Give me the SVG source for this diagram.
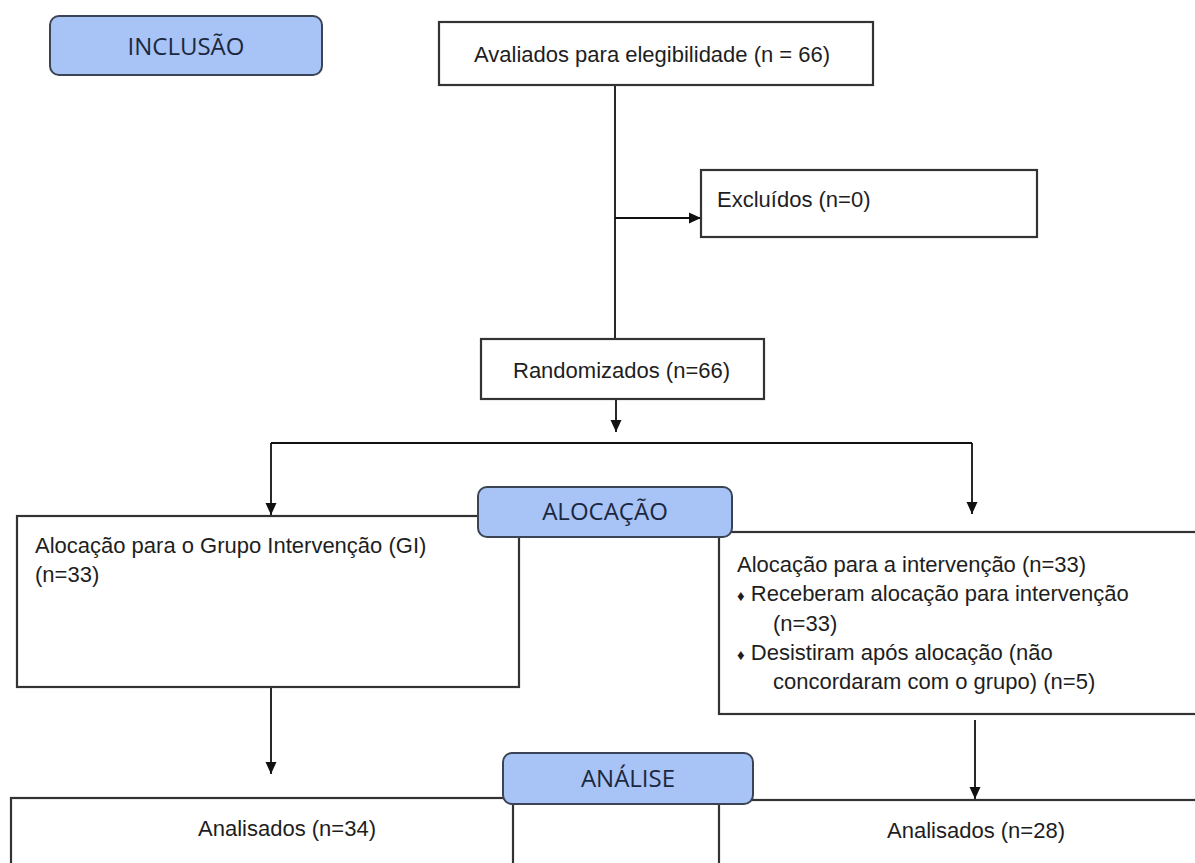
<svg xmlns="http://www.w3.org/2000/svg" width="1195" height="863" viewBox="0 0 1195 863">
<defs>
<marker id="ah" markerUnits="userSpaceOnUse" markerWidth="12" markerHeight="12" viewBox="0 0 12 12" refX="12" refY="6" orient="auto">
<path d="M0,0.5 L12,6 L0,11.5 Z" fill="#111"/>
</marker>
<style>
.box{fill:#fff;stroke:#333;stroke-width:2.2}
.tag{fill:#a8c3f6;stroke:#3a4455;stroke-width:2}
.t{font-family:"Liberation Sans",Arial,sans-serif;font-size:22px;fill:#1e1e1e}
.tt{font-family:"Open Sans","Noto Sans",sans-serif;font-size:24px;fill:#1b2840;text-anchor:middle}
.c{fill:none;stroke:#111;stroke-width:1.8}
.b{font-size:15px}
</style>
</defs>
<rect width="1195" height="863" fill="#fff"/>
<g id="connectors">
<path class="c" d="M615,85 V339"/>
<path class="c" d="M615,218 H701" marker-end="url(#ah)"/>
<path class="c" d="M616,399 V432" marker-end="url(#ah)"/>
<path class="c" d="M271,443 H972"/>
<path class="c" d="M271,443 V515" marker-end="url(#ah)"/>
<path class="c" d="M972,443 V514" marker-end="url(#ah)"/>
<path class="c" d="M271,687 V774" marker-end="url(#ah)"/>
<path class="c" d="M975,720 V799" marker-end="url(#ah)"/>
</g>
<g id="inclusao">
<rect class="tag" x="50" y="16" width="272" height="59" rx="9"/>
<text class="tt" x="186" y="55">INCLUSÃO</text>
</g>
<g id="avaliados">
<rect class="box" x="439" y="22" width="434" height="63"/>
<text class="t" x="474" y="62">Avaliados para elegibilidade (n = 66)</text>
</g>
<g id="excluidos">
<rect class="box" x="701" y="170" width="336" height="67"/>
<text class="t" x="717" y="207">Excluídos (n=0)</text>
</g>
<g id="randomizados">
<rect class="box" x="481" y="339" width="283" height="60"/>
<text class="t" x="513" y="378">Randomizados (n=66)</text>
</g>
<g id="grupo-gi">
<rect class="box" x="17" y="516" width="502" height="171"/>
<text class="t" x="35" y="553">Alocação para o Grupo Intervenção (GI)</text>
<text class="t" x="35" y="582">(n=33)</text>
</g>
<g id="grupo-intervencao">
<rect class="box" x="719" y="532" width="490" height="182"/>
<text class="t" x="737" y="572">Alocação para a intervenção (n=33)</text>
<text class="t" x="737" y="601"><tspan class="b">♦</tspan> Receberam alocação para intervenção</text>
<text class="t" x="773" y="631">(n=33)</text>
<text class="t" x="737" y="660"><tspan class="b">♦</tspan> Desistiram após alocação (não</text>
<text class="t" x="773" y="689">concordaram com o grupo) (n=5)</text>
</g>
<g id="alocacao">
<rect class="tag" x="478" y="487" width="254" height="50" rx="9"/>
<text class="tt" x="605" y="520">ALOCAÇÃO</text>
</g>
<g id="analisados-34">
<rect class="box" x="11" y="798" width="502" height="100"/>
<text class="t" x="287" y="836" text-anchor="middle">Analisados (n=34)</text>
</g>
<g id="analisados-28">
<rect class="box" x="719" y="800" width="490" height="100"/>
<text class="t" x="976" y="838" text-anchor="middle">Analisados (n=28)</text>
</g>
<g id="analise">
<rect class="tag" x="503" y="753" width="250" height="51" rx="9"/>
<text class="tt" x="628" y="787">ANÁLISE</text>
</g>
</svg>
